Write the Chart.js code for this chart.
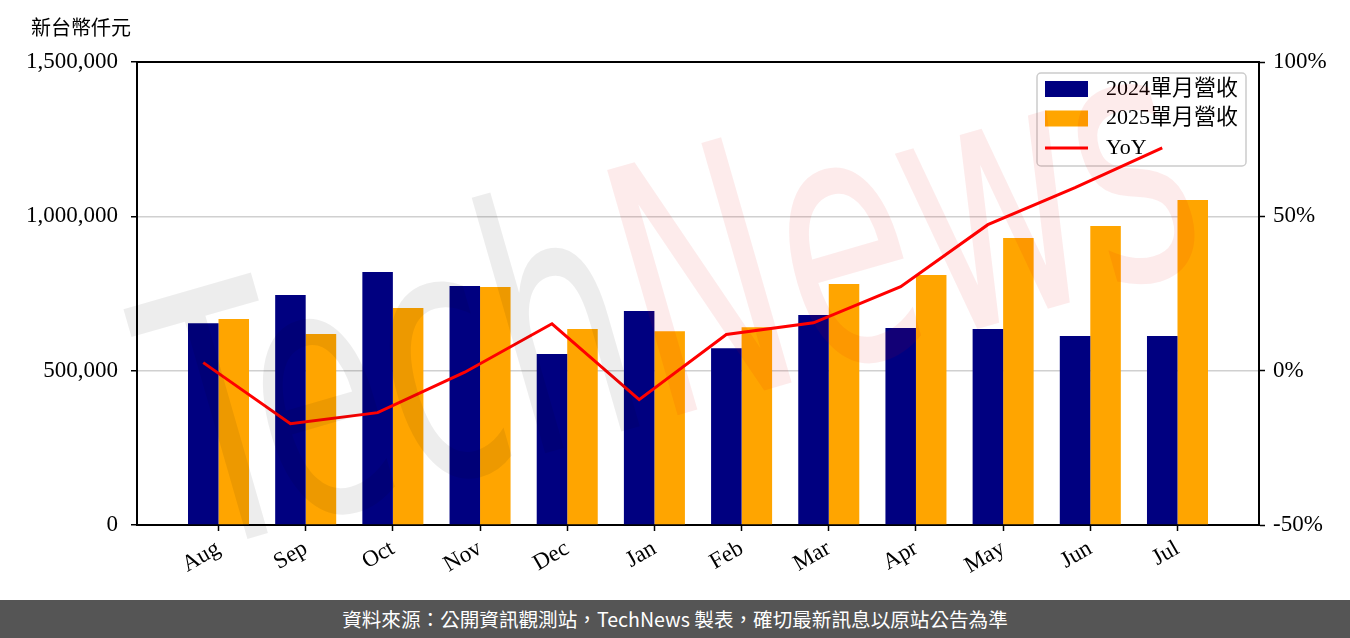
<!DOCTYPE html>
<html lang="zh-Hant">
<head>
<meta charset="UTF-8">
<title>單月營收</title>
<style>
  body { margin: 0; background: #fff; }
  #wrap { width: 1350px; height: 600px; }
  .footer { width: 1350px; height: 38px; background: #555555; color: #fff;
            font-family: "Noto Sans CJK TC", sans-serif; font-size: 19.6px; line-height: 38px; text-align: center; }
</style>
<script src="https://cdn.jsdelivr.net/npm/chart.js@4"></script>
</head>
<body>
<div id="wrap"><canvas id="revChart" width="1350" height="600"></canvas></div>
<div class="footer">資料來源：公開資訊觀測站，TechNews 製表，確切最新訊息以原站公告為準</div>
<script>
const months = ["Aug", "Sep", "Oct", "Nov", "Dec", "Jan", "Feb", "Mar", "Apr", "May", "Jun", "Jul"];
const rev2024 = [654000, 745000, 820000, 774000, 554000, 693000, 573000, 680000, 638000, 635000, 612000, 612000];
const rev2025 = [667000, 619000, 703000, 771000, 635000, 628000, 641000, 781000, 810000, 930000, 969000, 1053000];
const yoy = [2.6, -17.2, -13.6, -0.5, 15.2, -9.4, 11.7, 15.5, 27.2, 47.3, 59.3, 72.2];
const leftTicks = [0, 500000, 1000000, 1500000];
const rightTicks = [-50, 0, 50, 100];

const barW = 0.35; // bar width in category units, line sits on the 2024 bar centres
const serif = '"Liberation Serif", "Noto Sans CJK TC", serif';
const tickFont = { family: serif, size: 23 };

function drawLegend(chart) {
    const ctx = chart.ctx;
    const x0 = chart.chartArea.right - 222, y0 = chart.chartArea.top + 11;
    ctx.save();
    ctx.beginPath();
    ctx.roundRect(x0, y0, 209, 93, 4);
    ctx.fillStyle = "rgba(255,255,255,0.8)";
    ctx.fill();
    ctx.lineWidth = 1.5;
    ctx.strokeStyle = "#cccccc";
    ctx.stroke();
    ctx.font = "22px " + serif;
    ctx.textBaseline = "middle";
    chart.data.datasets.forEach((ds, i) => {
        const cy = y0 + 16 + i * 29.5;
        if (ds.type === "line") {
            ctx.strokeStyle = ds.borderColor;
            ctx.lineWidth = 3;
            ctx.beginPath();
            ctx.moveTo(x0 + 8, cy);
            ctx.lineTo(x0 + 51, cy);
            ctx.stroke();
        } else {
            ctx.fillStyle = ds.backgroundColor;
            ctx.fillRect(x0 + 8, cy - 8, 43, 16);
        }
        ctx.fillStyle = "#000";
        ctx.fillText(ds.label, x0 + 69, cy);
    });
    ctx.restore();
}

const extras = {
    id: "extras",
    beforeDatasetDraw(chart, args) {
        if (args.index === 2) drawLegend(chart);
    },
    afterDraw(chart) {
        const ctx = chart.ctx;
        const a = chart.chartArea;
        ctx.save();
        // top spine
        ctx.strokeStyle = "#000";
        ctx.lineWidth = 2;
        ctx.beginPath();
        ctx.moveTo(a.left - 1, a.top);
        ctx.lineTo(a.right + 1, a.top);
        ctx.stroke();
        // unit label
        ctx.font = '20px "Noto Sans CJK TC", sans-serif';
        ctx.fillStyle = "#000";
        ctx.textBaseline = "middle";
        ctx.fillText("新台幣仟元", 31, 27);
        // watermark
        ctx.translate(680, 320);
        ctx.rotate(-0.28);
        ctx.scale(0.86, 1.4);
        ctx.font = '250px "DejaVu Sans"';
        ctx.textBaseline = "middle";
        const w1 = ctx.measureText("Tech").width, w2 = ctx.measureText("News").width;
        const sx = -(w1 + w2) / 2;
        ctx.fillStyle = "rgba(0,0,0,0.07)";
        ctx.fillText("Tech", sx, 0);
        ctx.fillStyle = "rgba(230,0,0,0.08)";
        ctx.fillText("News", sx + w1, 0);
        ctx.restore();
    }
};

new Chart(document.getElementById("revChart"), {
    type: "bar",
    data: {
        datasets: [
            {
                label: "2024單月營收",
                data: rev2024.map((v, i) => ({ x: i, y: v })),
                backgroundColor: "#000080",
                yAxisID: "y",
                order: 1
            },
            {
                label: "2025單月營收",
                data: rev2025.map((v, i) => ({ x: i, y: v })),
                backgroundColor: "#FFA500",
                yAxisID: "y",
                order: 1
            },
            {
                type: "line",
                label: "YoY",
                data: yoy.map((v, i) => ({ x: i - barW / 2, y: v })),
                borderColor: "#FF0000",
                borderWidth: 3,
                pointRadius: 0,
                tension: 0,
                yAxisID: "y1",
                order: 0
            }
        ]
    },
    options: {
        responsive: false,
        animation: false,
        layout: { padding: { top: 62, left: 0, right: 0, bottom: 0 } },
        datasets: { bar: { categoryPercentage: 2 * barW, barPercentage: 1 } },
        plugins: { legend: { display: false }, tooltip: { enabled: false } },
        scales: {
            x: {
                type: "linear",
                min: -0.935,
                max: 11.935,
                offset: false,
                afterBuildTicks: s => { s.ticks = months.map((m, i) => ({ value: i })); },
                ticks: {
                    callback: v => months[v],
                    minRotation: 30,
                    maxRotation: 30,
                    autoSkip: false,
                    font: tickFont,
                    color: "#000",
                    padding: 4
                },
                grid: { offset: false, drawOnChartArea: false, tickLength: 6, tickColor: "#000", tickWidth: 1.5 },
                border: { color: "#000", width: 2 },
                afterFit: s => { s.height = 75; }
            },
            y: {
                position: "left",
                min: 0,
                max: 1500000,
                afterBuildTicks: s => { s.ticks = leftTicks.map(v => ({ value: v })); },
                ticks: { callback: v => v.toLocaleString("en-US"), font: tickFont, color: "#000", padding: 13 },
                grid: { color: "#d0d0d0", lineWidth: 1.5, tickLength: 6, tickColor: "#000", tickWidth: 1.5 },
                border: { color: "#000", width: 2 },
                afterFit: s => { s.width = 137; }
            },
            y1: {
                position: "right",
                min: -50,
                max: 100,
                afterBuildTicks: s => { s.ticks = rightTicks.map(v => ({ value: v })); },
                ticks: { callback: v => v + "%", font: tickFont, color: "#000", padding: 8 },
                grid: { drawOnChartArea: false, tickLength: 6, tickColor: "#000", tickWidth: 1.5 },
                border: { color: "#000", width: 2 },
                afterFit: s => { s.width = 91; }
            }
        }
    },
    plugins: [extras]
});
</script>
</body>
</html>
